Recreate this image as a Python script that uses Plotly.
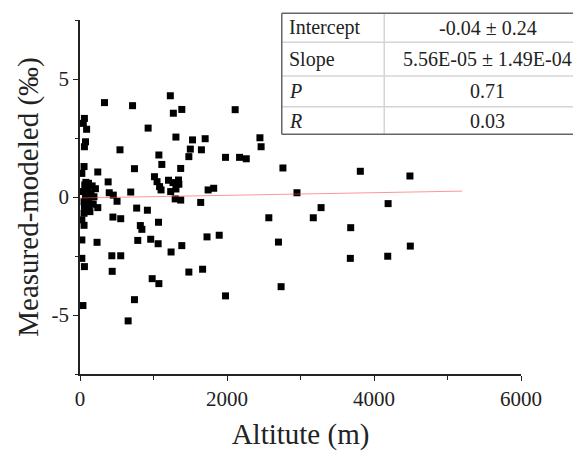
import plotly.graph_objects as go

# ---- data ----
altitude = [333, 715, 1229, 1270, 1385, 2111, 927, 1305, 1531, 1703, 2448, 2464, 544, 1501,
            1652, 1481, 1980, 2171, 2262, 1073, 1113, 1370, 741, 2761, 3814, 4489, 242, 383,
            1013, 1048, 1083, 1103, 1204, 1265, 1340, 1234, 1305, 1345, 1743, 1819, 690, 398,
            453, 2952, 1295, 1370, 504, 1642, 4192, 771, 917, 3280, 242, 448, 554, 1068, 2569,
            3174, 821, 842, 3683, 1728, 1894, 786, 962, 1063, 2700, 232, 1239, 1385, 4494, 433,
            554, 3678, 4187, 438, 1481, 1668, 982, 1073, 2736, 1980, 741, 655]
residual = [4.0, 3.87, 4.29, 3.55, 3.71, 3.70, 2.92, 2.54, 2.42, 2.47, 2.51, 2.13, 2.0, 2.03,
            2.0, 1.71, 1.68, 1.68, 1.62, 1.78, 1.38, 1.21, 1.20, 1.23, 1.09, 0.89, 1.06, 0.64,
            0.86, 0.65, 0.44, 0.30, 0.71, 0.61, 0.72, 0.23, 0.34, 0.54, 0.30, 0.37, 0.21, 0.18,
            0.08, 0.18, -0.08, -0.13, -0.18, -0.23, -0.28, -0.47, -0.56, -0.45, -0.45, -0.85,
            -0.92, -1.07, -0.88, -0.88, -1.21, -1.37, -1.30, -1.69, -1.62, -1.84, -1.79, -1.98,
            -1.91, -1.92, -2.33, -2.06, -2.08, -2.49, -2.49, -2.60, -2.51, -3.15, -3.18, -3.06,
            -3.46, -3.67, -3.80, -4.19, -4.35, -5.25]
# low-altitude sites (clustered near 0 m)
low_altitude = [60, 45, 90, 75, 60, 55, 25, 115, 65, 165, 95, 40, 140, 75, 190, 115, 55, 155,
                95, 135, 55, 25, 55, 25, 25, 60, 40, 100, 150, 120, 80, 180, 60, 210]
low_residual = [3.33, 3.12, 2.87, 2.34, 2.13, 1.29, 1.0, 0.58, 0.51, 0.47, 0.30, 0.23, 0.18,
                0.01, 0.01, -0.13, -0.20, -0.30, -0.44, -0.62, -0.69, -0.97, -1.20, -1.82,
                -2.60, -2.95, -4.60, 0.45, 0.10, -0.50, 0.62, -0.30, -0.40, 0.35]

intercept = -0.04
slope = 5.56e-05
fit_x_end = 5200

table_labels = ["Intercept", "Slope", "<i>P</i>", "<i>R</i>"]
table_values = ["-0.04 ± 0.24", "5.56E-05 ± 1.49E-04", "0.71", "0.03"]

x_ticks = [0, 2000, 4000, 6000]
y_ticks = [-5, 0, 5]
y_ticktext = ["-5", "0", "5"]

# ---- figure ----
OFF = 8  # default page body margin
W, H = 581, 452
ML, MT = 80 - OFF, 20 - OFF
MR = W - (521.5 - OFF)
MB = H - (374 - OFF)
PW, PH = W - ML - MR, H - MT - MB

def px_x(px):  # page pixel -> paper
    return (px - OFF - ML) / PW

def px_y(py):
    return (H - MB - (py - OFF)) / PH

FONT = "Liberation Serif, Times New Roman, serif"

fig = go.Figure()
fig.add_trace(go.Scatter(
    x=altitude + low_altitude, y=residual + low_residual, mode="markers",
    marker=dict(symbol="square", size=7, color="black", line=dict(width=0)),
    showlegend=False, cliponaxis=False))
fig.add_trace(go.Scatter(
    x=[0, fit_x_end], y=[intercept, intercept + slope * fit_x_end], mode="lines",
    line=dict(color="rgba(255,80,80,0.6)", width=1), showlegend=False))

axis_common = dict(showline=True, linecolor="#222", linewidth=1.5, showgrid=False,
                   zeroline=False, ticks="outside", ticklen=5, tickwidth=1.2, automargin=False,
                   tickcolor="#222", tickfont=dict(family=FONT, size=21, color="#222"))
fig.update_xaxes(range=[0, 6000], tickvals=x_ticks,
                 minor=dict(ticks="outside", ticklen=4, dtick=1000, tickcolor="#222"),
                 title=dict(text="Altitute (m)", font=dict(family=FONT, size=29, color="#222"),
                            standoff=14),
                 **axis_common)
fig.update_yaxes(range=[-7.5, 7.5], tickvals=y_ticks, ticktext=y_ticktext,
                 minor=dict(ticks="outside", ticklen=3, dtick=2.5, tickcolor="#222"),
                 title=dict(text="Measured-modeled (‰)", font=dict(family=FONT, size=29, color="#222"),
                            standoff=4),
                 **axis_common)

# ---- stats table (page pixel positions) ----
left, mid, right = 282, 384.6, 595
rows = [13.3, 42.3, 76, 106.7, 134.3]
shapes = [dict(type="rect", xref="paper", yref="paper", x0=px_x(left), x1=px_x(right),
               y0=px_y(rows[-1]), y1=px_y(rows[0]), fillcolor="white",
               line=dict(width=0), layer="above")]
for r in rows[1:-1]:
    shapes.append(dict(type="line", xref="paper", yref="paper", x0=px_x(left), x1=px_x(right),
                       y0=px_y(r), y1=px_y(r), line=dict(color="#d4d4d4", width=1.5)))
shapes.append(dict(type="line", xref="paper", yref="paper", x0=px_x(mid), x1=px_x(mid),
                   y0=px_y(rows[-1]), y1=px_y(rows[0]), line=dict(color="#d4d4d4", width=1.5)))
for r in (rows[0], rows[-1]):
    shapes.append(dict(type="line", xref="paper", yref="paper", x0=px_x(left), x1=px_x(right),
                       y0=px_y(r), y1=px_y(r), line=dict(color="#666", width=1.5)))
shapes.append(dict(type="line", xref="paper", yref="paper", x0=px_x(left), x1=px_x(left),
                   y0=px_y(rows[-1]), y1=px_y(rows[0]), line=dict(color="#666", width=1.5)))

annotations = []
for i, (lab, val) in enumerate(zip(table_labels, table_values)):
    yc = px_y((rows[i] + rows[i + 1]) / 2)
    annotations.append(dict(xref="paper", yref="paper", x=px_x(left + 5), y=yc, text=lab,
                            showarrow=False, xanchor="left", yanchor="middle",
                            font=dict(family=FONT, size=20, color="#222")))
    annotations.append(dict(xref="paper", yref="paper", x=px_x(488), y=yc, text=val,
                            showarrow=False, xanchor="center", yanchor="middle",
                            font=dict(family=FONT, size=20, color="#222")))

fig.update_layout(width=W, height=H, margin=dict(l=ML, r=MR, t=MT, b=MB),
                  paper_bgcolor="white", plot_bgcolor="white",
                  shapes=shapes, annotations=annotations, showlegend=False)

fig.write_html("out.html")
